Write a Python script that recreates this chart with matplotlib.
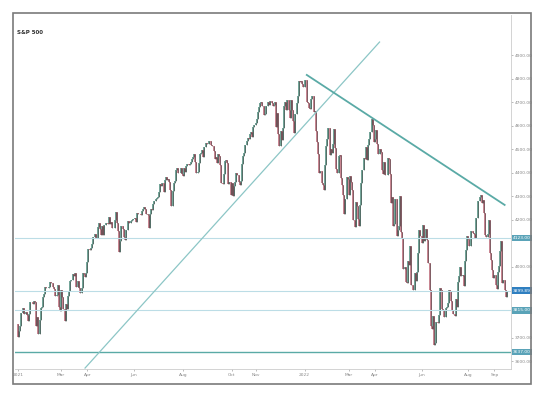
import numpy as np
import matplotlib
matplotlib.use("Agg")
import matplotlib.pyplot as plt
from matplotlib.patches import Rectangle

# S&P 500 daily closes, one list per month (Jan 2021 .. Sep 2022)
prev_close = 3756.07
months = [
    [3700.65, 3726.86, 3748.14, 3803.79, 3824.68, 3799.61, 3801.19, 3809.84, 3795.54, 3768.25,
     3798.91, 3851.85, 3853.07, 3841.47, 3855.36, 3849.62, 3750.77, 3787.38, 3714.24],
    [3773.86, 3826.31, 3830.17, 3871.74, 3886.83, 3915.59, 3911.23, 3909.88, 3916.38, 3934.83,
     3932.59, 3931.33, 3913.97, 3906.71, 3876.50, 3881.37, 3925.43, 3829.34, 3811.15],
    [3901.82, 3870.29, 3819.72, 3768.47, 3841.94, 3821.35, 3875.44, 3898.81, 3939.34, 3943.34,
     3968.94, 3962.71, 3974.12, 3915.46, 3913.10, 3940.59, 3910.52, 3889.14, 3909.52, 3974.54,
     3971.09, 3958.55, 3972.89],
    [4019.87, 4077.91, 4073.94, 4079.95, 4097.17, 4128.80, 4127.99, 4141.59, 4124.66, 4170.42,
     4185.47, 4163.26, 4134.94, 4173.42, 4134.98, 4180.17, 4187.62, 4186.72, 4183.18, 4211.47,
     4181.17],
    [4192.66, 4164.66, 4167.59, 4201.62, 4232.60, 4188.43, 4152.10, 4063.04, 4112.50, 4173.85,
     4163.29, 4127.83, 4115.68, 4159.12, 4155.86, 4197.05, 4188.13, 4195.99, 4200.88, 4204.11],
    [4202.04, 4208.12, 4192.85, 4229.89, 4226.52, 4227.26, 4219.55, 4239.18, 4247.44, 4255.15,
     4246.59, 4223.70, 4221.86, 4166.45, 4224.79, 4246.44, 4241.84, 4266.49, 4280.70, 4290.61,
     4291.80, 4297.50],
    [4319.94, 4352.34, 4343.54, 4358.13, 4320.82, 4369.55, 4384.63, 4369.21, 4374.30, 4360.03,
     4327.16, 4258.49, 4323.06, 4358.69, 4367.48, 4411.79, 4422.30, 4401.46, 4400.64, 4419.15,
     4395.26],
    [4387.16, 4423.15, 4402.66, 4429.10, 4436.52, 4432.35, 4436.75, 4447.70, 4460.83, 4468.00,
     4479.71, 4448.08, 4400.27, 4405.80, 4441.67, 4479.53, 4486.23, 4496.19, 4470.00, 4509.37,
     4528.79, 4522.68],
    [4524.09, 4536.95, 4535.43, 4520.03, 4514.07, 4493.28, 4458.58, 4468.73, 4443.05, 4480.70,
     4473.75, 4432.99, 4357.73, 4354.19, 4395.64, 4448.98, 4455.48, 4443.11, 4352.63, 4359.46,
     4307.54],
    [4357.04, 4300.46, 4345.72, 4363.55, 4399.76, 4391.34, 4361.19, 4350.65, 4363.80, 4438.26,
     4471.37, 4486.46, 4519.63, 4536.19, 4549.78, 4544.90, 4566.48, 4574.79, 4551.68, 4596.42,
     4605.38],
    [4613.67, 4630.65, 4660.57, 4680.06, 4697.53, 4701.70, 4685.25, 4646.71, 4649.27, 4682.85,
     4682.80, 4700.90, 4688.67, 4704.54, 4697.96, 4682.94, 4690.70, 4701.46, 4594.62, 4655.27,
     4567.00],
    [4513.04, 4577.10, 4538.43, 4591.67, 4686.75, 4701.21, 4667.45, 4712.02, 4668.97, 4634.09,
     4709.85, 4668.67, 4620.64, 4568.02, 4649.23, 4696.56, 4725.79, 4791.19, 4786.35, 4793.06,
     4778.73, 4766.18],
    [4796.56, 4793.54, 4700.58, 4696.05, 4677.03, 4670.29, 4713.07, 4726.35, 4659.03, 4662.85,
     4577.11, 4532.76, 4482.73, 4397.94, 4410.13, 4356.45, 4349.93, 4326.51, 4431.85, 4515.55],
    [4546.54, 4589.38, 4477.44, 4500.53, 4483.87, 4521.54, 4587.18, 4504.08, 4418.64, 4401.67,
     4471.07, 4475.01, 4380.26, 4348.87, 4304.76, 4225.50, 4288.70, 4384.65, 4373.94],
    [4306.26, 4386.54, 4363.49, 4328.87, 4201.09, 4170.70, 4277.88, 4259.52, 4204.31, 4173.11,
     4262.45, 4357.86, 4411.67, 4463.12, 4461.18, 4511.61, 4456.24, 4520.16, 4543.06, 4575.52,
     4631.60, 4602.45, 4530.41],
    [4545.86, 4582.64, 4525.12, 4481.15, 4500.21, 4488.28, 4412.53, 4397.45, 4446.59, 4392.59,
     4391.69, 4462.21, 4459.45, 4393.66, 4271.78, 4296.12, 4175.20, 4183.96, 4287.50, 4131.93],
    [4155.38, 4175.48, 4300.17, 4146.87, 4123.34, 3991.24, 4001.05, 3935.18, 3930.08, 4023.89,
     4008.01, 4088.85, 3923.68, 3900.79, 3901.36, 3973.75, 3941.48, 3978.73, 4057.84, 4158.24,
     4132.15],
    [4101.23, 4176.82, 4108.54, 4121.43, 4160.68, 4115.77, 4017.82, 3900.86, 3749.63, 3735.48,
     3789.99, 3666.77, 3674.84, 3764.79, 3759.89, 3795.73, 3911.74, 3900.11, 3821.55, 3818.83,
     3785.38],
    [3825.33, 3831.39, 3845.08, 3902.62, 3899.38, 3854.43, 3818.80, 3801.78, 3790.38, 3863.16,
     3830.85, 3936.69, 3959.90, 3998.95, 3961.63, 3966.84, 3921.05, 4023.61, 4072.43, 4130.29],
    [4118.63, 4091.19, 4155.17, 4151.94, 4145.19, 4140.06, 4122.47, 4210.24, 4207.27, 4280.15,
     4297.14, 4305.20, 4274.04, 4283.74, 4228.48, 4137.99, 4128.73, 4140.77, 4199.12, 4057.66,
     4030.61, 3986.16, 3955.00],
    [3966.85, 3924.26, 3908.19, 3979.87, 4006.18, 4067.36, 4110.41, 3932.69, 3946.01, 3901.35,
     3873.33, 3899.89],
]

tick_months = [0, 2, 3, 5, 7, 9, 10, 12, 14, 15, 17, 19, 20]
tick_names = ["2021", "Mar", "Apr", "Jun", "Aug", "Oct", "Nov",
              "2022", "Mar", "Apr", "Jun", "Aug", "Sep"]

# drawn levels and trendlines (bar index, price)
levels = [4123.0, 3815.0, 3637.0]
up_trend = [(59, 3570), (318, 4957)]
down_trend = [(254, 4817), (428, 4264)]
y_ticks = [4900, 4800, 4700, 4600, 4500, 4400, 4300, 4200, 4000, 3700, 3600]

closes = np.array([c for m in months for c in m])
opens = np.concatenate([[prev_close], closes[:-1]])
idx = np.arange(len(closes))
month_start = np.cumsum([0] + [len(m) for m in months])[:-1]

fig = plt.figure(figsize=(5.36, 3.99), dpi=100)
ax = fig.add_axes([15 / 536, 30 / 399, 496 / 536, 354 / 399])

up = closes >= opens
green, red = "#4a8a7a", "#b86272"
ax.vlines(idx[up], opens[up], closes[up], colors=green, lw=1.1)
ax.vlines(idx[~up], opens[~up], closes[~up], colors=red, lw=1.1)
# dark outline feel of the thin candles
ax.vlines(idx, np.minimum(opens, closes), np.maximum(opens, closes),
          colors="#333333", lw=0.4, alpha=0.85)

line_col = "#bcdde6"
teal = "#5aaaa6"
ax.axhline(levels[0], color=line_col, lw=0.8)
ax.axhline(closes[-1], color=line_col, lw=0.8)
ax.axhline(levels[1], color=line_col, lw=0.8)
ax.axhline(levels[2], color=teal, lw=1.0)

ax.plot(*zip(*up_trend), color="#8cc6c6", lw=0.9)
ax.plot(*zip(*down_trend), color=teal, lw=1.3)

ax.set_xlim(-2.6, 433.6)
ax.set_ylim(3566, 5072)

ax.set_xticks(month_start[tick_months])
ax.set_xticklabels(tick_names)
ax.yaxis.tick_right()
ax.set_yticks(y_ticks)
ax.set_yticklabels([f"{v:.2f}" for v in y_ticks])
ax.tick_params(labelsize=3.2, colors="#888888", length=1.5, width=0.4, pad=1.5)
for s in ["top", "left"]:
    ax.spines[s].set_visible(False)
for s in ["bottom", "right"]:
    ax.spines[s].set_color("#cccccc")
    ax.spines[s].set_linewidth(0.6)

# price boxes on the right axis
boxes = [(levels[0], "#5aa3b8"), (closes[-1], "#2f7fc0"),
         (levels[1], "#5aa3b8"), (levels[2], "#5aa3b8")]
for val, col in boxes:
    ax.text(1.004, val, f"{val:.2f}", transform=ax.get_yaxis_transform(),
            fontsize=3.2, color="white", va="center", ha="left",
            bbox=dict(boxstyle="square,pad=0.25", fc=col, ec="none"))

ax.text(0.004, 0.95, "S&P 500", transform=ax.transAxes, fontsize=4,
        fontweight="bold", color="#333333", va="center")

fig.patches.append(Rectangle((13 / 536, 15 / 399), 518 / 536, 371 / 399,
                             transform=fig.transFigure, fill=False,
                             ec="#7a7a7a", lw=1.2))

fig.savefig("out.png", dpi=100)
